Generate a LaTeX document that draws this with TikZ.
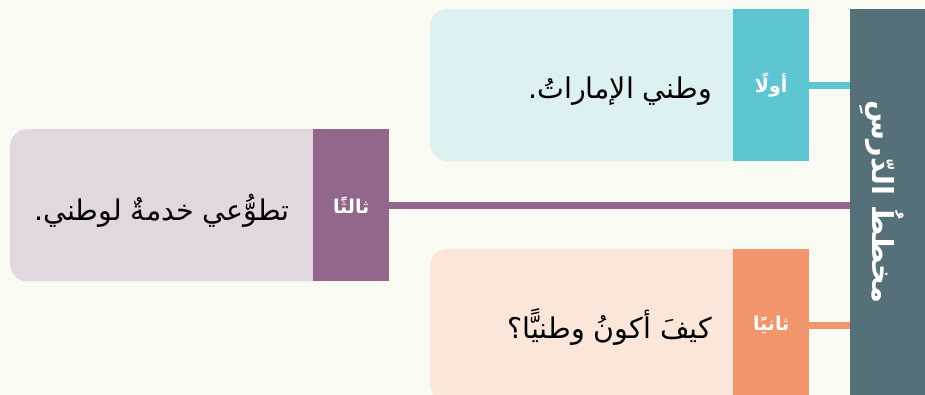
\documentclass[tikz,border=0pt]{standalone}
\usepackage{fontspec}
\TeXXeTstate=1
\newfontfamily\arabicfont[Script=Arabic]{DejaVu Sans}
\definecolor{bgc}{HTML}{F9FAF1}
\definecolor{titlec}{HTML}{56707A}
\definecolor{tealc}{HTML}{5EC6D3}
\definecolor{teall}{HTML}{DEF1F2}
\definecolor{purpc}{HTML}{93668B}
\definecolor{purpl}{HTML}{E2D6DF}
\definecolor{orc}{HTML}{F0956C}
\definecolor{orl}{HTML}{FCE6DA}
\tikzset{
  lightbox/.style={draw=none, rounded corners=17pt, minimum width=379pt, minimum height=152pt, anchor=north west, inner sep=0pt},
  labelbox/.style={draw=none, minimum width=76pt, minimum height=152pt, anchor=north west, inner sep=0pt, text=white, font=\arabicfont\bfseries\fontsize{19}{23}\selectfont},
  maintext/.style={anchor=base east, inner sep=0pt, text=black, font=\arabicfont\fontsize{28.5}{34}\selectfont},
  conn/.style={line width=7pt},
}
\begin{document}
\begin{tikzpicture}[x=1pt,y=-1pt]
\useasboundingbox (0,0) rectangle (925,395);
\clip (0,0) rectangle (925,395);
\fill[bgc] (0,0) rectangle (925,395);
% title bar
\node[fill=titlec, minimum width=90pt, minimum height=420pt, anchor=north west, inner sep=0pt] (title) at (850,9) {};
\node[rotate=-90, text=white, font=\arabicfont\bfseries\fontsize{29}{34}\selectfont] (titletext) at (882,202) {\beginR مخططُ الدّرسِ\endR};
% box 1
\node[lightbox, fill=teall] (b1) at (430,9) {};
\node[labelbox, fill=tealc] (l1) at (733,9) {\beginR أولًا\endR};
\node[maintext] (t1) at (712,99) {\beginR وطني الإماراتُ.\endR};
% box 3
\node[lightbox, fill=purpl] (b3) at (10,129) {};
\node[labelbox, fill=purpc] (l3) at (313,129) {\beginR ثالثًا\endR};
\node[maintext] (t3) at (290,221) {\beginR تطوُّعي خدمةٌ لوطني.\endR};
% box 2
\node[lightbox, fill=orl] (b2) at (430,249) {};
\node[labelbox, fill=orc] (l2) at (733,249) {\beginR ثانيًا\endR};
\node[maintext] (t2) at (712,338) {\beginR كيفَ أكونُ وطنيًّا؟\endR};
% connectors
\draw[conn, tealc] (l1.east) -- (l1.east -| title.west);
\draw[conn, purpc] (l3.east) -- (l3.east -| title.west);
\draw[conn, orc] (l2.east) -- (l2.east -| title.west);
\end{tikzpicture}
\end{document}
